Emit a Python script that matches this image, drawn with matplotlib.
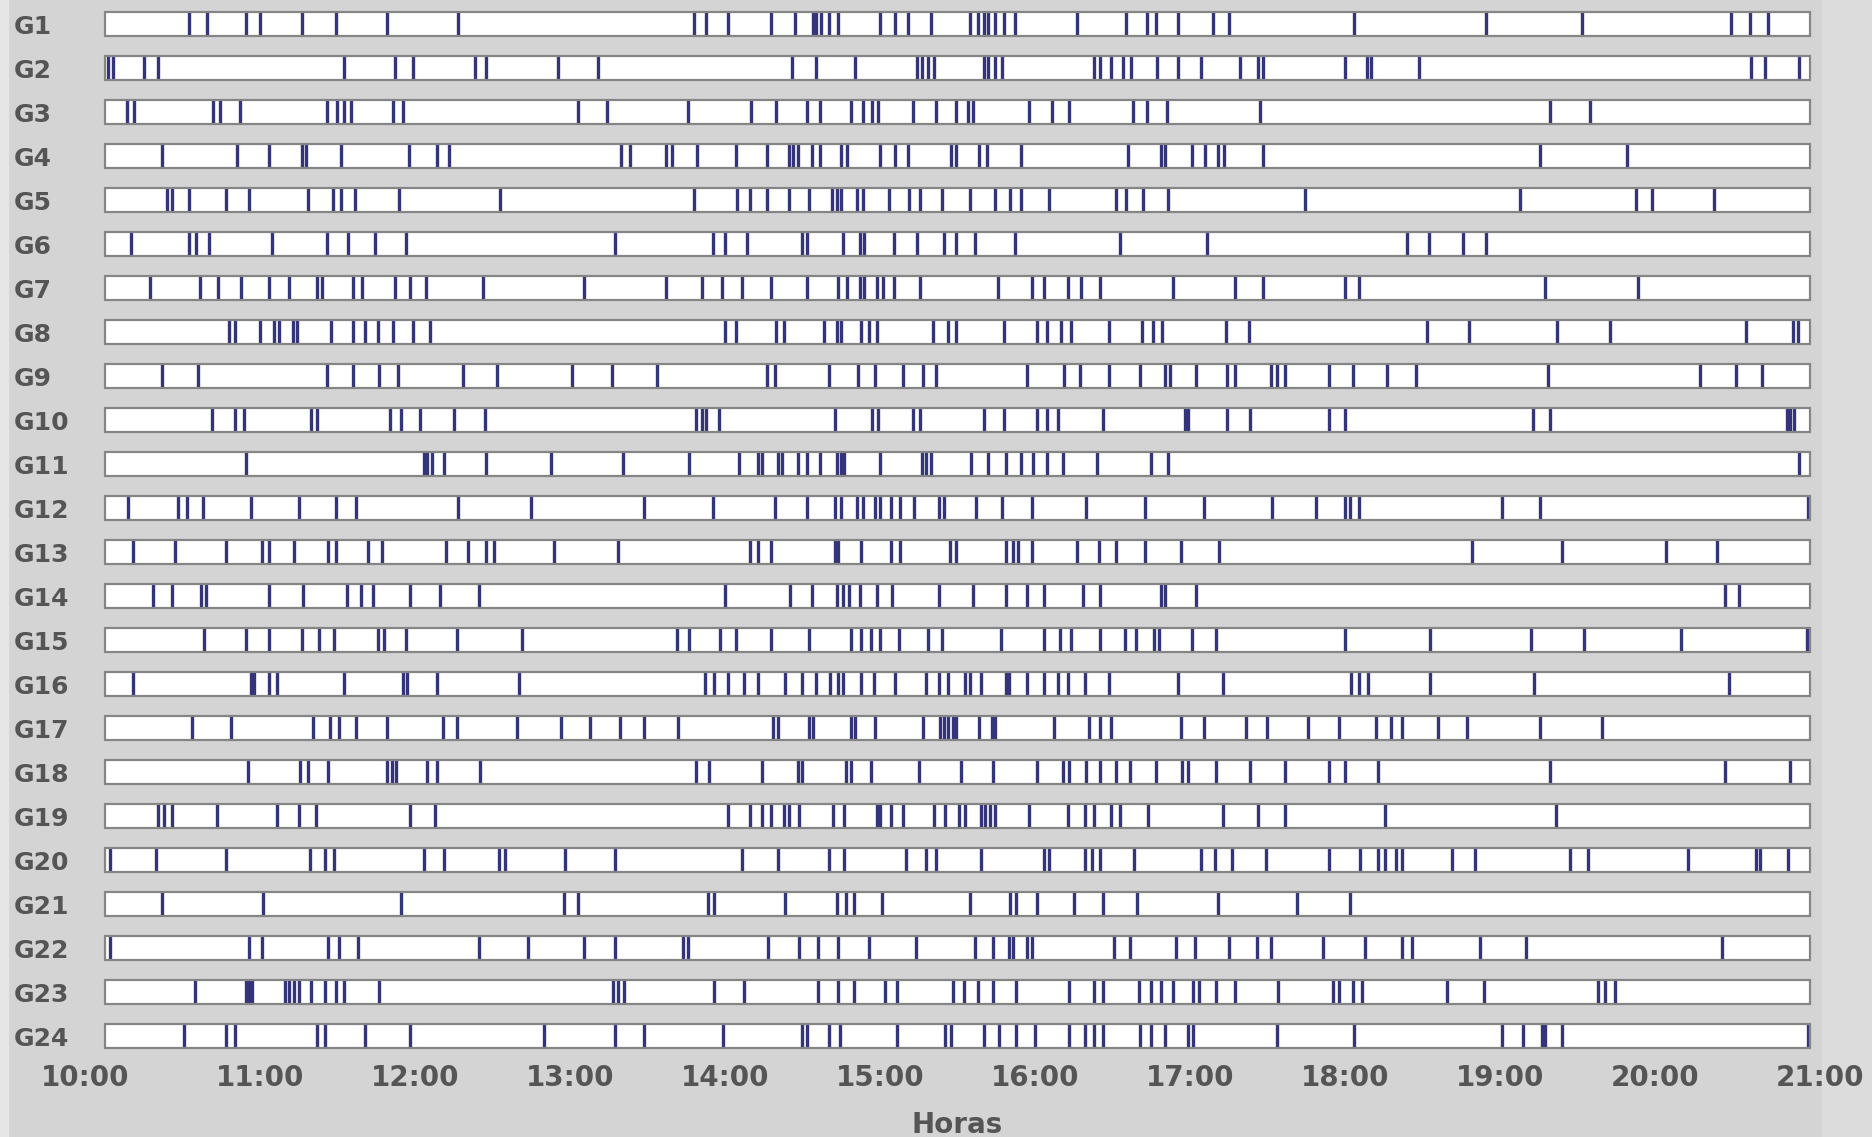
import matplotlib.pyplot as plt
from matplotlib.transforms import ScaledTranslation
from matplotlib.patches import Rectangle

# event times (decimal hours) per group
g01 = [10.54, 10.66, 10.91, 11.00, 11.27, 11.49, 11.82, 12.28, 13.80, 13.88, 14.02, 14.30, 14.45, 14.57, 14.59, 14.62,
       14.67, 14.73, 15.00, 15.10, 15.18, 15.33, 15.58, 15.63, 15.67, 15.70, 15.74, 15.80, 15.87, 16.27, 16.59, 16.72,
       16.78, 16.92, 17.15, 17.25, 18.06, 18.91, 19.53, 20.49, 20.61, 20.73]
g02 = [10.02, 10.05, 10.25, 10.34, 11.54, 11.87, 11.99, 12.39, 12.46, 12.92, 13.18, 14.43, 14.59, 14.84, 15.24, 15.27,
       15.31, 15.35, 15.67, 15.70, 15.74, 15.79, 16.38, 16.42, 16.49, 16.57, 16.62, 16.79, 16.92, 17.07, 17.32, 17.44,
       17.47, 18.00, 18.14, 18.17, 18.48, 20.62, 20.71, 20.93]
g03 = [10.14, 10.19, 10.70, 10.74, 10.87, 11.43, 11.50, 11.54, 11.59, 11.86, 11.92, 13.05, 13.24, 13.76, 14.17, 14.33,
       14.53, 14.61, 14.81, 14.89, 14.95, 14.99, 15.21, 15.36, 15.49, 15.57, 15.60, 15.96, 16.11, 16.22, 16.63, 16.72,
       16.85, 17.45, 19.32, 19.58]
g04 = [10.37, 10.85, 11.06, 11.27, 11.30, 11.52, 11.96, 12.14, 12.22, 13.33, 13.39, 13.62, 13.66, 13.82, 14.07, 14.27,
       14.41, 14.44, 14.47, 14.56, 14.61, 14.75, 14.79, 15.00, 15.10, 15.18, 15.46, 15.49, 15.64, 15.69, 15.91, 16.60,
       16.81, 16.84, 17.01, 17.10, 17.18, 17.22, 17.47, 19.26, 19.82]
g05 = [10.40, 10.43, 10.54, 10.78, 10.93, 11.31, 11.47, 11.52, 11.61, 11.90, 12.55, 13.80, 14.08, 14.16, 14.27, 14.41,
       14.54, 14.69, 14.72, 14.75, 14.85, 14.89, 15.06, 15.19, 15.26, 15.40, 15.58, 15.74, 15.84, 15.91, 16.09, 16.52,
       16.59, 16.70, 16.86, 17.74, 19.13, 19.88, 19.98, 20.38]
g06 = [10.17, 10.54, 10.59, 10.67, 11.08, 11.43, 11.57, 11.74, 11.94, 13.29, 13.92, 14.00, 14.14, 14.50, 14.53, 14.76,
       14.87, 14.90, 15.09, 15.24, 15.41, 15.49, 15.61, 15.87, 16.55, 17.11, 18.40, 18.54, 18.76, 18.91]
g07 = [10.29, 10.61, 10.73, 10.88, 11.06, 11.19, 11.37, 11.40, 11.60, 11.66, 11.87, 11.97, 12.07, 12.44, 13.09, 13.62,
       13.85, 13.98, 14.11, 14.30, 14.53, 14.73, 14.79, 14.87, 14.90, 14.98, 15.02, 15.09, 15.26, 15.76, 15.98, 16.06,
       16.21, 16.30, 16.42, 16.89, 17.29, 17.47, 18.00, 18.09, 19.29, 19.89]
g08 = [10.80, 10.84, 11.00, 11.09, 11.12, 11.21, 11.24, 11.46, 11.60, 11.68, 11.76, 11.86, 11.99, 12.10, 14.00, 14.07,
       14.33, 14.38, 14.64, 14.72, 14.75, 14.88, 14.93, 14.98, 15.34, 15.44, 15.49, 15.80, 16.01, 16.08, 16.17, 16.23,
       16.48, 16.69, 16.76, 16.82, 17.23, 17.38, 18.53, 18.80, 19.37, 19.71, 20.59, 20.89, 20.92]
g09 = [10.37, 10.60, 11.43, 11.60, 11.77, 11.89, 12.31, 12.53, 13.01, 13.27, 13.56, 14.27, 14.32, 14.67, 14.86, 14.97,
       15.15, 15.28, 15.36, 15.95, 16.19, 16.29, 16.48, 16.68, 16.84, 16.87, 17.04, 17.24, 17.29, 17.52, 17.56, 17.61,
       17.90, 18.05, 18.27, 18.46, 19.31, 20.29, 20.52, 20.69]
g10 = [10.69, 10.84, 10.90, 11.33, 11.37, 11.84, 11.91, 12.03, 12.25, 12.45, 13.81, 13.85, 13.88, 13.96, 14.71, 14.95,
       14.99, 15.21, 15.26, 15.67, 15.80, 16.01, 16.08, 16.15, 16.44, 16.97, 16.99, 17.24, 17.39, 17.90, 18.00, 19.21,
       19.32, 20.85, 20.87, 20.90]
g11 = [10.91, 12.06, 12.08, 12.11, 12.19, 12.46, 12.88, 13.34, 13.77, 14.09, 14.21, 14.24, 14.34, 14.37, 14.47, 14.53,
       14.61, 14.72, 14.75, 14.77, 15.00, 15.27, 15.30, 15.33, 15.59, 15.70, 15.81, 15.91, 15.99, 16.08, 16.18, 16.40,
       16.75, 16.86, 20.93]
g12 = [10.15, 10.47, 10.53, 10.63, 10.94, 11.25, 11.49, 11.62, 12.28, 12.75, 13.48, 13.92, 14.32, 14.53, 14.71, 14.75,
       14.85, 14.89, 14.97, 15.00, 15.07, 15.13, 15.22, 15.38, 15.41, 15.62, 15.79, 15.98, 16.33, 16.71, 17.09, 17.53,
       17.81, 18.00, 18.03, 18.09, 19.01, 19.26, 20.99]
g13 = [10.18, 10.45, 10.78, 11.01, 11.06, 11.22, 11.44, 11.49, 11.70, 11.79, 12.20, 12.34, 12.46, 12.51, 12.90, 13.31,
       14.16, 14.21, 14.30, 14.71, 14.73, 14.88, 15.07, 15.13, 15.45, 15.49, 15.81, 15.86, 15.89, 15.98, 16.27, 16.41,
       16.52, 16.71, 16.94, 17.19, 18.82, 19.40, 20.07, 20.40]
g14 = [10.31, 10.43, 10.62, 10.65, 11.06, 11.28, 11.56, 11.65, 11.73, 11.97, 12.16, 12.41, 14.00, 14.42, 14.56, 14.72,
       14.76, 14.80, 14.87, 14.98, 15.08, 15.38, 15.60, 15.81, 15.95, 16.06, 16.31, 16.42, 16.81, 16.84, 17.04, 20.45,
       20.54]
g15 = [10.64, 10.91, 11.06, 11.27, 11.38, 11.48, 11.76, 11.80, 11.94, 12.27, 12.69, 13.69, 13.77, 13.97, 14.07, 14.30,
       14.54, 14.81, 14.88, 14.94, 15.00, 15.12, 15.31, 15.40, 15.78, 16.06, 16.16, 16.23, 16.42, 16.58, 16.65, 16.77,
       16.80, 17.01, 17.17, 18.00, 18.55, 19.20, 19.54, 20.17, 20.98]
g16 = [10.18, 10.94, 10.96, 11.06, 11.11, 11.54, 11.92, 11.95, 12.14, 12.67, 13.87, 13.93, 14.02, 14.12, 14.21, 14.39,
       14.50, 14.59, 14.68, 14.73, 14.76, 14.88, 14.96, 15.10, 15.30, 15.38, 15.44, 15.55, 15.58, 15.65, 15.81, 15.83,
       15.95, 16.06, 16.15, 16.21, 16.32, 16.48, 16.92, 17.21, 18.04, 18.09, 18.15, 18.55, 19.22, 20.48]
g17 = [10.56, 10.81, 11.34, 11.45, 11.51, 11.62, 11.82, 12.18, 12.27, 12.66, 12.94, 13.13, 13.32, 13.48, 13.70, 14.31,
       14.34, 14.54, 14.57, 14.81, 14.84, 14.97, 15.28, 15.39, 15.41, 15.44, 15.47, 15.49, 15.64, 15.72, 15.74, 16.12,
       16.35, 16.42, 16.49, 16.94, 17.09, 17.36, 17.50, 17.76, 17.96, 18.20, 18.30, 18.37, 18.60, 18.79, 19.26, 19.66]
g18 = [10.92, 11.26, 11.31, 11.44, 11.82, 11.85, 11.88, 12.08, 12.14, 12.42, 13.81, 13.90, 14.24, 14.47, 14.50, 14.78,
       14.81, 14.94, 15.25, 15.52, 15.73, 16.01, 16.18, 16.22, 16.33, 16.42, 16.52, 16.61, 16.78, 16.95, 16.99, 17.17,
       17.39, 17.61, 17.90, 18.00, 18.21, 19.32, 20.45, 20.87]
g19 = [10.34, 10.38, 10.43, 10.72, 11.11, 11.25, 11.36, 11.97, 12.13, 14.02, 14.16, 14.24, 14.30, 14.38, 14.41, 14.48,
       14.70, 14.77, 14.98, 15.00, 15.07, 15.15, 15.35, 15.42, 15.51, 15.55, 15.65, 15.68, 15.71, 15.74, 15.96, 16.21,
       16.32, 16.38, 16.49, 16.55, 16.73, 17.21, 17.44, 17.61, 18.26, 19.36]
g20 = [10.03, 10.33, 10.78, 11.32, 11.42, 11.48, 12.06, 12.19, 12.54, 12.58, 12.97, 13.29, 14.11, 14.34, 14.67, 14.77,
       15.17, 15.30, 15.36, 15.65, 16.06, 16.09, 16.32, 16.37, 16.42, 16.64, 17.07, 17.16, 17.27, 17.49, 17.90, 18.10,
       18.21, 18.26, 18.33, 18.37, 18.69, 18.84, 19.45, 19.57, 20.21, 20.65, 20.68, 20.86]
g21 = [10.37, 11.02, 11.91, 12.96, 13.05, 13.89, 13.93, 14.39, 14.72, 14.78, 14.83, 15.01, 15.58, 15.84, 15.88, 16.01,
       16.25, 16.44, 16.66, 17.18, 17.69, 18.03]
g22 = [10.03, 10.93, 11.01, 11.44, 11.51, 11.63, 12.41, 12.73, 13.09, 13.29, 13.73, 13.76, 14.28, 14.48, 14.60, 14.73,
       14.93, 15.23, 15.61, 15.73, 15.83, 15.86, 15.95, 15.98, 16.51, 16.61, 16.91, 17.03, 17.25, 17.43, 17.52, 17.86,
       18.13, 18.37, 18.43, 18.87, 19.17, 20.43]
g23 = [10.58, 10.91, 10.93, 10.95, 11.16, 11.19, 11.22, 11.25, 11.33, 11.42, 11.49, 11.54, 11.77, 13.28, 13.31, 13.35,
       13.93, 14.12, 14.60, 14.73, 14.83, 15.03, 15.11, 15.47, 15.54, 15.63, 15.73, 15.88, 16.22, 16.38, 16.44, 16.67,
       16.75, 16.81, 16.89, 17.02, 17.06, 17.17, 17.29, 17.57, 17.92, 17.96, 18.05, 18.11, 18.66, 18.90, 19.63, 19.68,
       19.74]
g24 = [10.51, 10.78, 10.84, 11.37, 11.42, 11.68, 11.97, 12.83, 13.29, 13.48, 13.99, 14.50, 14.53, 14.67, 14.74, 15.11,
       15.42, 15.46, 15.67, 15.77, 15.88, 16.00, 16.22, 16.32, 16.38, 16.44, 16.68, 16.75, 16.84, 16.99, 17.02, 17.56,
       18.06, 19.01, 19.15, 19.27, 19.29, 19.40, 20.99]

groups = [g01, g02, g03, g04, g05, g06, g07, g08, g09, g10, g11, g12,
          g13, g14, g15, g16, g17, g18, g19, g20, g21, g22, g23, g24]
labels = ['G%d' % (i + 1) for i in range(len(groups))]
hours = list(range(10, 22))
hour_labels = ['%d:00' % h for h in hours]

W, H = 1872, 1137
fig = plt.figure(figsize=(W / 100, H / 100), dpi=100, facecolor='#d4d4d4')
fig.patches.append(Rectangle((0, 0), 8 / W, 1, transform=fig.transFigure, color='#e6e6e6', zorder=-1))
fig.patches.append(Rectangle((1822 / W, 0), 1, 1, transform=fig.transFigure, color='#dcdcdc', zorder=-1))

ax = fig.add_axes([105 / W, 1 - 1058 / H, (1810 - 105) / W, 1056 / H])
ax.set_facecolor('none')
ax.set_xlim(10, 21)
ax.set_ylim(len(groups) - 0.5, -0.5)
for s in ax.spines.values():
    s.set_visible(False)

bh = 0.56
for i, g in enumerate(groups):
    ax.barh(i, 11, left=10, height=bh, color='white', edgecolor='none', zorder=1)
    ax.vlines(g, i - bh / 2, i + bh / 2, color='#34347a', linewidth=2.4, zorder=2)
    ax.barh(i, 11, left=10, height=bh, color='none', edgecolor='#858585', linewidth=1.6, zorder=3, clip_on=False)

txt = '#555555'
ax.set_yticks(range(len(groups)))
ax.set_yticklabels(labels, ha='left', fontsize=18, fontweight='bold', color=txt)
ax.tick_params(axis='y', length=0, pad=66)
ax.set_xticks(hours)
ax.set_xticklabels(hour_labels, fontsize=20, fontweight='bold', color=txt)
ax.tick_params(axis='x', length=0, pad=4)
xl = ax.get_xticklabels()
xl[0].set_transform(xl[0].get_transform() + ScaledTranslation(-0.2, 0, fig.dpi_scale_trans))
xl[-1].set_transform(xl[-1].get_transform() + ScaledTranslation(0.1, 0, fig.dpi_scale_trans))

fig.text(957 / W, 1 - 1125 / H, 'Horas', ha='center', va='center', fontsize=20, fontweight='bold', color=txt)

plt.savefig('out.png', dpi=100, facecolor=fig.get_facecolor())
